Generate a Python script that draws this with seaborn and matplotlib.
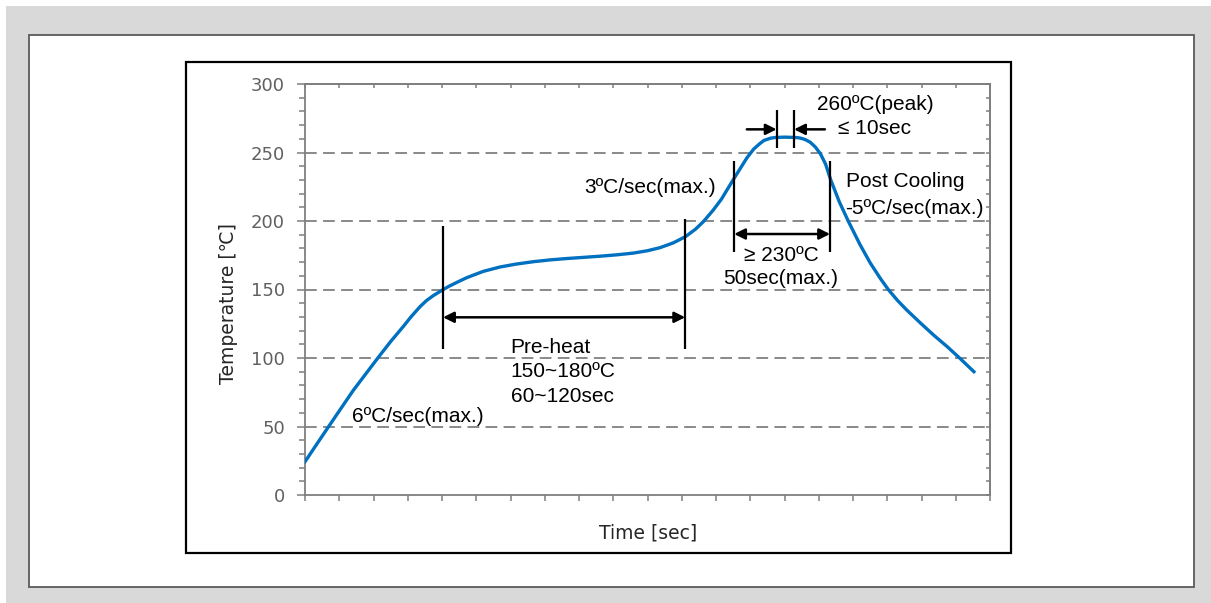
import numpy as np
import pandas as pd
import matplotlib
matplotlib.use("Agg")
import matplotlib.pyplot as plt
from matplotlib.patches import Rectangle
import seaborn as sns

# ---- data ----
time_pts = [0.0, 0.34, 0.68, 1.05, 1.41, 1.78, 2.12, 2.5, 2.87, 3.1, 3.36, 3.55, 3.75,
            4.01, 4.2, 4.45, 4.72, 5.2, 5.69, 6.15, 6.67, 7.15, 7.64, 8.1, 8.61, 9.1, 9.59,
            10.0, 10.36, 10.75, 11.11, 11.4, 11.63, 11.92, 12.16, 12.5, 12.9, 13.1, 13.28,
            13.4, 13.6, 13.75, 14.0, 14.3, 14.45, 14.6, 14.75, 14.9, 15.05, 15.2, 15.35,
            15.6, 15.87, 16.2, 16.5, 16.8, 17.03, 17.3, 17.57, 17.95, 18.35, 18.75, 19.12,
            19.53]
temp_pts = [24.3, 37, 49.6, 63.2, 76.4, 88.6, 99.8, 112, 123, 130.2, 137.5, 142, 145.6,
            149.6, 152.3, 155.4, 158.6, 163.2, 166.4, 168.5, 170.3, 171.6, 172.6, 173.4, 174.3,
            175.3, 176.6, 178.3, 180.5, 184, 188.6, 194, 199.5, 208, 216, 230, 246, 252.5,
            256.5, 258.8, 260.5, 261, 261.2, 261, 260.6, 259.5, 257.5, 254, 249, 241.5, 230,
            214, 199.5, 183, 169.5, 158, 150, 142, 135, 126, 116.8, 108.3, 99.8, 90]
y_major = [0, 50, 100, 150, 200, 250, 300]
y_grid = [50, 100, 150, 200, 250]

df = pd.DataFrame({"time": time_pts, "temp": temp_pts})

W, H = 1211, 603
fig = plt.figure(figsize=(W / 100, H / 100), dpi=100)
fig.patch.set_facecolor("white")

def rect(x0, y0, x1, y1, **kw):
    r = Rectangle((x0 / W, 1 - y1 / H), (x1 - x0) / W, (y1 - y0) / H,
                  transform=fig.transFigure, **kw)
    fig.add_artist(r)

rect(6, 6, W, H, facecolor="#d9d9d9", edgecolor="none", zorder=-3)
rect(29, 35, 1194, 587, facecolor="white", edgecolor="#5a5a5a", lw=1.3, zorder=-2)
rect(186, 62, 1011, 553, facecolor="white", edgecolor="black", lw=1.6, zorder=-1)

ax = fig.add_axes([305 / W, 1 - 495 / H, (990 - 305) / W, (495 - 84) / H])
ax.set_facecolor("white")

sns.lineplot(data=df, x="time", y="temp", sort=False, color="#0070C0", lw=2.4, ax=ax, zorder=5)

ax.set_xlim(0, 20)
ax.set_ylim(0, 300)

spine_c = "#7f7f7f"
for s in ax.spines.values():
    s.set_color(spine_c)
    s.set_linewidth(1.3)

ax.set_xticks(np.arange(0, 21, 1))
ax.set_xticklabels([])
ax.set_yticks(y_major)
ax.set_yticklabels([str(v) for v in y_major])
ax.set_yticks(np.arange(0, 301, 10), minor=True)
ax.tick_params(axis="x", which="both", direction="out", length=4, width=1.1, color=spine_c)
ax.tick_params(axis="y", which="major", direction="out", length=5.5, width=1.1,
               color=spine_c, labelsize=13, labelcolor="#606060", pad=9)
ax.tick_params(axis="y", which="minor", direction="out", length=4, width=1.1, color=spine_c)
for lab in ax.get_yticklabels():
    lab.set_family(["DejaVu Sans"])

sec_y = ax.secondary_yaxis("right")
sec_y.set_yticks(np.arange(0, 301, 10))
sec_y.tick_params(direction="in", length=3, width=1.1, color=spine_c, labelright=False)
sec_y.spines["right"].set_color(spine_c)
sec_y.spines["right"].set_linewidth(1.3)
sec_x = ax.secondary_xaxis("top")
sec_x.set_xticks(np.arange(0, 21, 1))
sec_x.tick_params(direction="in", length=3, width=1.1, color=spine_c, labeltop=False)
sec_x.spines["top"].set_color(spine_c)
sec_x.spines["top"].set_linewidth(1.3)

for g in y_grid:
    ax.axhline(g, color="#808080", lw=1.3, ls=(0, (6.5, 3.5)), zorder=1)

ax.set_xlabel("Time [sec]", fontsize=13.5, color="#262626", family=["DejaVu Sans"], va="center")
ax.xaxis.set_label_coords(0.5015, -0.0925)
ax.set_ylabel("Temperature [℃]", fontsize=13.5, color="#262626",
              family=["DejaVu Sans", "Noto Sans CJK JP"], va="center")
ax.yaxis.set_label_coords(-0.111, 0.466)

# ---- annotations ----
fam = ["Liberation Sans", "DejaVu Sans"]
tk = dict(fontsize=15, color="black", family=fam, va="baseline", ha="left", zorder=6)
ax.text(1.36, 53, "6ºC/sec(max.)", **tk)
ax.text(6.0, 103.9, "Pre-heat", **tk)
ax.text(6.0, 86.4, "150~180ºC", **tk)
ax.text(6.0, 68.1, "60~120sec", **tk)
ax.text(8.15, 220.2, "3ºC/sec(max.)", **tk)
ax.text(14.94, 281, "260ºC(peak)", **tk)
ax.text(15.57, 263.5, "≤ 10sec", **tk)
ax.text(12.83, 170.8, "≥ 230ºC", **tk)
ax.text(12.21, 153.8, "50sec(max.)", **tk)
ax.text(15.8, 225, "Post Cooling", **tk)
ax.text(15.77, 205.1, "-5ºC/sec(max.)", **tk)

lk = dict(color="black", lw=1.6, zorder=6)
ax.vlines([4.03, 11.1], 106.5, [196.5, 201.5], **lk)
ax.vlines([12.53, 15.33], 177.6, 244, **lk)
ax.vlines([13.77, 14.28], 253, 281, **lk)

ap2 = dict(arrowstyle="<|-|>", color="black", lw=1.8, mutation_scale=16, shrinkA=0, shrinkB=0)
ap1 = dict(arrowstyle="-|>", color="black", lw=1.8, mutation_scale=16, shrinkA=0, shrinkB=0)
ax.annotate("", xy=(11.1, 129.7), xytext=(4.03, 129.7), arrowprops=ap2, zorder=6)
ax.annotate("", xy=(15.33, 190.5), xytext=(12.53, 190.5), arrowprops=ap2, zorder=6)
ax.annotate("", xy=(13.77, 266.9), xytext=(12.9, 266.9), arrowprops=ap1, zorder=6)
ax.annotate("", xy=(14.28, 266.9), xytext=(15.18, 266.9), arrowprops=ap1, zorder=6)

fig.savefig("out.png", dpi=100)
